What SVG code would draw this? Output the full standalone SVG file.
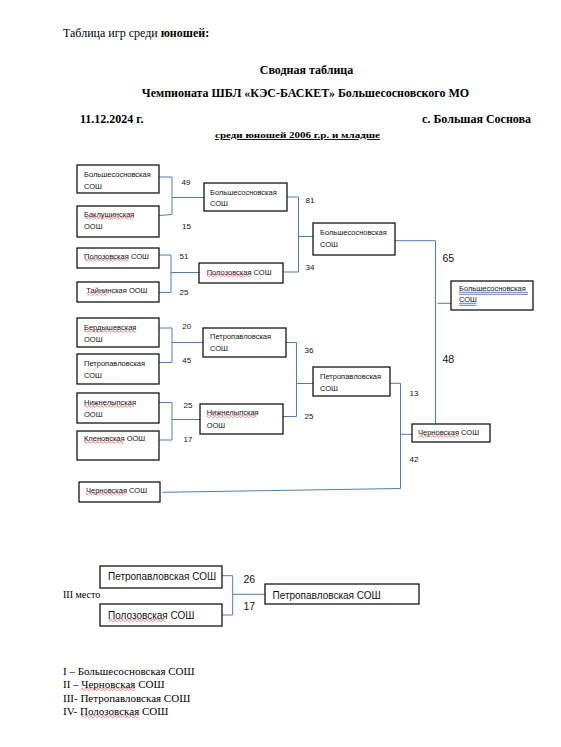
<svg xmlns="http://www.w3.org/2000/svg" width="561" height="747" viewBox="0 0 561 747">
<defs>
<style>
.bg{fill:#fff}
.box{fill:#fff;stroke:#000;stroke-width:1.2}
.t{font-family:"Liberation Sans",Arial,sans-serif;font-size:7.5px;fill:#111}
.tl{font-family:"Liberation Sans",Arial,sans-serif;font-size:10px;fill:#111}
.s{font-family:"Liberation Sans",Arial,sans-serif;font-size:8px;fill:#111;text-anchor:middle}
.sl{font-family:"Liberation Sans",Arial,sans-serif;font-size:10.5px;fill:#111;text-anchor:middle}
.h{font-family:"Liberation Serif","Times New Roman",serif;font-size:12px;fill:#000}
.hb{font-family:"Liberation Serif","Times New Roman",serif;font-size:12px;font-weight:bold;fill:#000}
.sub{font-family:"Liberation Serif","Times New Roman",serif;font-size:9px;font-weight:bold;fill:#000;text-decoration:underline}
.lg{font-family:"Liberation Serif","Times New Roman",serif;font-size:11px;fill:#000}
.lg10{font-family:"Liberation Serif","Times New Roman",serif;font-size:10px;fill:#000}
.c{fill:none;stroke:#4a7ebb;stroke-width:1}
.bl{stroke:#2f5fd0;stroke-width:0.8}
</style>
<pattern id="wavy" patternUnits="userSpaceOnUse" width="4" height="3">
<path d="M0,1.5 L1,0.5 L2,1.5 L3,2.5 L4,1.5" fill="none" stroke="#e02020" stroke-width="0.9"/>
</pattern>
</defs>
<rect class="bg" x="0" y="0" width="561" height="747"/>

<g id="header">
<text class="h" x="63" y="37">Таблица игр среди <tspan font-weight="bold">юношей:</tspan></text>
<text class="hb" x="306.5" y="74" text-anchor="middle">Сводная таблица</text>
<text class="hb" x="305.5" y="97" text-anchor="middle">Чемпионата ШБЛ «КЭС-БАСКЕТ» Большесосновского МО</text>
<text class="hb" x="80" y="123">11.12.2024 г.</text>
<text class="hb" x="531" y="123" text-anchor="end">с. Большая Соснова</text>
<text class="sub" x="297.5" y="138" text-anchor="middle" textLength="165" lengthAdjust="spacingAndGlyphs">среди юношей 2006 г.р. и младше</text>
</g>

<g id="connectors">
<path class="c" d="M159,177 H172 V214.5 L159,215.5 M172,197.5 H204"/>
<path class="c" d="M159,255 H171 V292.5 H159 M171,272.5 H199"/>
<path class="c" d="M287,197 H298.5 V272 H283 M298.5,236.5 H313"/>
<path class="c" d="M395,240.7 H435.5 V423.5 M437.5,303.3 H451"/>
<path class="c" d="M159,328 H172 V362.5 H159 M172,342.5 H203"/>
<path class="c" d="M159,402.5 H172 V440 H159 M172,419.5 H200"/>
<path class="c" d="M286,342.5 H296.5 V416.5 H283 M296.5,383.5 H313"/>
<path class="c" d="M390,383.3 H400.5 V488.5 L162.5,492.3 M400.5,434.3 H412"/>
<path class="c" d="M222,575.7 H232.7 V615 H222 M232.7,594.3 H265"/>
</g>

<g id="scores">
<text class="s" x="186" y="184.5">49</text>
<text class="s" x="186.5" y="229">15</text>
<text class="s" x="184" y="259">51</text>
<text class="s" x="184" y="295">25</text>
<text class="s" x="310" y="203">81</text>
<text class="s" x="310" y="269.5">34</text>
<text class="sl" x="448.3" y="261.5">65</text>
<text class="sl" x="448.3" y="363">48</text>
<text class="s" x="186.7" y="328.5">20</text>
<text class="s" x="186.7" y="363">45</text>
<text class="s" x="188" y="408">25</text>
<text class="s" x="188" y="442">17</text>
<text class="s" x="309" y="353">36</text>
<text class="s" x="309" y="419">25</text>
<text class="s" x="414" y="395.5">13</text>
<text class="s" x="414" y="462">42</text>
<text class="sl" x="249.3" y="582.5">26</text>
<text class="sl" x="249.3" y="610">17</text>
</g>

<g id="n1"><rect class="box" x="77" y="165" width="82" height="28"/><text class="t" x="84" y="176.5">Большесосновская</text><text class="t" x="84" y="188.5">СОШ</text></g>
<g id="n2"><rect class="box" x="77" y="206" width="82" height="31"/><text class="t" x="84" y="216.5">Баклушинская</text><text class="t" x="84" y="228.5">ООШ</text><rect x="85" y="216.5" width="49" height="3" fill="url(#wavy)"/></g>
<g id="n3"><rect class="box" x="77" y="248" width="82" height="20"/><text class="t" x="84" y="259">Полозовская СОШ</text><rect x="85" y="258.5" width="44" height="3" fill="url(#wavy)"/></g>
<g id="n4"><rect class="box" x="77" y="282" width="82" height="20"/><text class="t" x="86.3" y="293">Тайнинская ООШ</text><rect x="86.5" y="292.5" width="21" height="3" fill="url(#wavy)"/></g>
<g id="n5"><rect class="box" x="77" y="318" width="82" height="29"/><text class="t" x="84" y="329.5">Бердышевская</text><text class="t" x="84" y="342">ООШ</text><rect x="84" y="329.5" width="52" height="3" fill="url(#wavy)"/></g>
<g id="n6"><rect class="box" x="77" y="354" width="82" height="30"/><text class="t" x="84" y="366">Петропавловская</text><text class="t" x="84" y="378">СОШ</text></g>
<g id="n7"><rect class="box" x="77" y="393" width="82" height="30"/><text class="t" x="84" y="404.5">Нижнелыпская</text><text class="t" x="84" y="417">ООШ</text><rect x="84" y="404.5" width="50" height="3" fill="url(#wavy)"/></g>
<g id="n8"><rect class="box" x="77" y="431" width="82" height="29"/><text class="t" x="84" y="441">Кленовская ООШ</text><rect x="84" y="440.5" width="40" height="3" fill="url(#wavy)"/></g>
<g id="n9"><rect class="box" x="79" y="482" width="81" height="20"/><text class="t" x="86" y="493">Черновская СОШ</text><rect x="86" y="492.5" width="40" height="3" fill="url(#wavy)"/></g>

<g id="nA"><rect class="box" x="204" y="183" width="83" height="28"/><text class="t" x="210" y="194.5">Большесосновская</text><text class="t" x="210" y="205.5">СОШ</text></g>
<g id="nB"><rect class="box" x="199" y="263" width="84" height="20"/><text class="t" x="206.7" y="274.5">Полозовская СОШ</text><rect x="206.7" y="274" width="44" height="3" fill="url(#wavy)"/></g>
<g id="nD"><rect class="box" x="203" y="328" width="83" height="29"/><text class="t" x="210" y="339">Петропавловская</text><text class="t" x="210" y="350.5">СОШ</text></g>
<g id="nE"><rect class="box" x="200" y="404" width="83" height="30"/><text class="t" x="206.7" y="415">Нижнелыпская</text><text class="t" x="206.7" y="428">ООШ</text><rect x="206.7" y="415" width="50" height="3" fill="url(#wavy)"/></g>

<g id="nC"><rect class="box" x="313" y="223" width="82" height="32"/><text class="t" x="320" y="235">Большесосновская</text><text class="t" x="320" y="247">СОШ</text></g>
<g id="nF"><rect class="box" x="313" y="367" width="77" height="29"/><text class="t" x="320" y="378.5">Петропавловская</text><text class="t" x="320" y="390.5">СОШ</text></g>

<g id="nG"><rect class="box" x="412" y="424" width="78" height="18"/><text class="t" x="418" y="434.5">Черновская СОШ</text><rect x="418.3" y="434.5" width="40.5" height="3" fill="url(#wavy)"/></g>
<g id="nW"><rect class="box" x="451" y="281" width="82" height="29"/><text class="t" x="459" y="291">Большесосновская</text><text class="t" x="459" y="302">СОШ</text>
<line class="bl" x1="459" y1="292.3" x2="528" y2="292.3"/><line class="bl" x1="459" y1="294.3" x2="528" y2="294.3"/>
<line class="bl" x1="459" y1="303.3" x2="476.5" y2="303.3"/><line class="bl" x1="459" y1="305.3" x2="476.5" y2="305.3"/></g>

<g id="third">
<text class="lg10" x="63" y="598">III место</text>
</g>
<g id="nI"><rect class="box" x="100" y="566" width="122" height="22"/><text class="tl" x="108" y="580">Петропавловская СОШ</text></g>
<g id="nJ"><rect class="box" x="100" y="604" width="122" height="22"/><text class="tl" x="108" y="619">Полозовская СОШ</text><rect x="108.3" y="619" width="57" height="3" fill="url(#wavy)"/></g>
<g id="nK"><rect class="box" x="265" y="584" width="154" height="20"/><text class="tl" x="272.5" y="599">Петропавловская СОШ</text></g>

<g id="legend">
<text class="lg" x="63" y="674.5">I – Большесосновская СОШ</text>
<text class="lg" x="63" y="688">II – Черновская СОШ</text>
<text class="lg" x="63" y="701.5">III- Петропавловская СОШ</text>
<text class="lg" x="63" y="715">IV- Полозовская СОШ</text>
<rect x="81" y="688" width="54" height="3" fill="url(#wavy)"/>
<rect x="81" y="715" width="57" height="3" fill="url(#wavy)"/>
</g>
</svg>
